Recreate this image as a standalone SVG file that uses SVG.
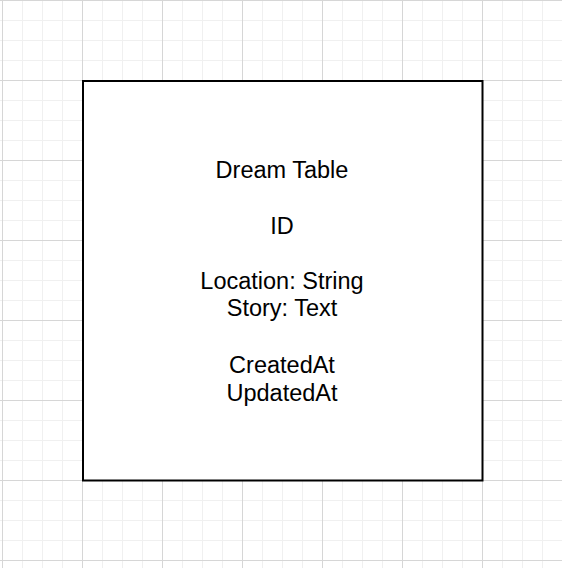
<svg xmlns="http://www.w3.org/2000/svg" width="562" height="568" viewBox="0 0 562 568">
  <style>
    .minor { stroke: #f0f0f0; stroke-width: 1; }
    .major { stroke: #d6d6d6; stroke-width: 1; }
    .box { fill: #ffffff; stroke: #000000; stroke-width: 2; }
    .lbl { font-family: "Liberation Sans", Arial, sans-serif; font-size: 23.5px; fill: #000000; text-anchor: middle; }
  </style>
  <defs>
    <pattern id="grid" patternUnits="userSpaceOnUse" x="2" y="0" width="80" height="80">
      <rect width="80" height="80" fill="#ffffff"/>
      <path class="minor" d="M20.5 0V80M40.5 0V80M60.5 0V80M0 20.5H80M0 40.5H80M0 60.5H80"/>
      <path class="major" d="M0.5 0V80M0 0.5H80"/>
    </pattern>
  </defs>
  <rect x="0" y="0" width="562" height="568" fill="url(#grid)"/>
  <g id="connectors"/>
  <g id="dream-table">
    <rect class="box" x="83" y="81" width="399.5" height="399.5"/>
    <text class="lbl" x="282" y="177.5">Dream Table</text>
    <text class="lbl" x="282" y="234">ID</text>
    <text class="lbl" x="282" y="288.5">Location: String</text>
    <text class="lbl" x="282" y="316">Story: Text</text>
    <text class="lbl" x="282" y="373">CreatedAt</text>
    <text class="lbl" x="282" y="400.5">UpdatedAt</text>
  </g>
</svg>
